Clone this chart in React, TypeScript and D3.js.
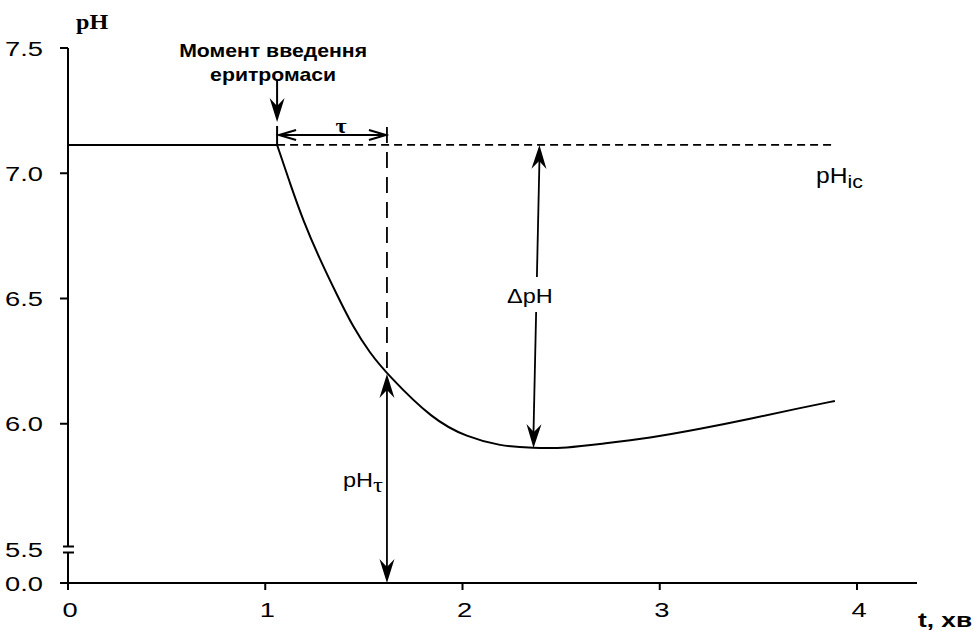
import React from "react";
import * as d3 from "d3";

// curve: time (min) and pH
const timeValues = [1.06, 1.125, 1.191, 1.278, 1.364, 1.445, 1.531, 1.617, 1.85, 2.023, 2.19, 2.357, 2.53, 2.697, 2.951, 3.204, 3.458, 3.711, 3.888];
const pHValues = [7.113, 6.961, 6.813, 6.654, 6.514, 6.386, 6.282, 6.199, 6.015, 5.947, 5.911, 5.903, 5.903, 5.919, 5.943, 5.979, 6.019, 6.063, 6.091];

const xTicks = [0, 1, 2, 3, 4];
const yTicks = [6.0, 6.5, 7.0, 7.5];
const yBreakTick = 5.5;
const yZeroTick = 0;

const pHInitial = 7.113;
const injectTime = 1.06;
const tauTime = 1.617;
const tauPH = 6.199;
const dashEndTime = 3.87;
const deltaTopTime = 2.39;
const deltaBottomTime = 2.36;
const minPH = 5.903;

const width = 974;
const height = 631;

const SANS = "'Liberation Sans', Arial, sans-serif";
const SERIF = "'Liberation Serif', 'Times New Roman', serif";

// filled, notched arrowhead pointing along angle, tip at (x, y)
const arrowHead = (x: number, y: number, angle: number, L = 24, W = 15, N = 16) => {
  const c = Math.cos(angle), s = Math.sin(angle);
  const p = (a: number, b: number) => `${x + a * c - b * s},${y + a * s + b * c}`;
  return `M${p(0, 0)}L${p(-L, -W / 2)}L${p(-N, 0)}L${p(-L, W / 2)}Z`;
};

const openHead = (x: number, y: number, angle: number, L = 17, W = 5) => {
  const c = Math.cos(angle), s = Math.sin(angle);
  const p = (a: number, b: number) => `${x + a * c - b * s},${y + a * s + b * c}`;
  return `M${p(-L, -W)}L${p(0, 0)}L${p(-L, W)}`;
};

const Stretch = ({ x, y, sx = 1.25, anchor = "start", size, weight = "normal", family = SANS, children }: any) => (
  <text
    transform={`translate(${x},${y}) scale(${sx},1)`}
    textAnchor={anchor}
    fontSize={size}
    fontWeight={weight}
    fontFamily={family}
    fill="#000"
  >
    {children}
  </text>
);

export default function App() {
  const x = d3.scaleLinear().domain([0, 4]).range([68, 857]);
  const y = d3.scaleLinear().domain([0, 5.5, 7.5]).range([583, 549, 48]);

  const points: [number, number][] = timeValues.map((t, i) => [t, pHValues[i]]);
  const line = d3
    .line<[number, number]>()
    .x((d) => x(d[0]))
    .y((d) => y(d[1]))
    .curve(d3.curveBasis);

  const x0 = x(0);
  const y0 = y(0);
  const yBase = y(pHInitial);
  const xInj = x(injectTime);
  const xTau = x(tauTime);
  const yTau = y(tauPH);
  const breakY = y(yBreakTick);

  const dTop = { x: x(deltaTopTime), y: yBase };
  const dBot = { x: x(deltaBottomTime), y: y(minPH) };
  const dAngle = Math.atan2(dBot.y - dTop.y, dBot.x - dTop.x);

  return (
    <svg width={width} height={height} style={{ position: "absolute", left: 0, top: 0, background: "#fff" }}>
      {/* axes */}
      <g stroke="#000" strokeWidth={2} fill="none">
        <line x1={x0 - 8} x2={917} y1={y0} y2={y0} />
        <line x1={x0} x2={x0} y1={y(7.5)} y2={breakY - 3} />
        <line x1={x0} x2={x0} y1={breakY + 4} y2={y0} />
        <line x1={x0 - 5} x2={x0 + 6} y1={breakY - 2.5} y2={breakY - 2.5} />
        <line x1={x0 - 5} x2={x0 + 6} y1={breakY + 3.5} y2={breakY + 3.5} />
        {yTicks.map((v) => (
          <line key={v} x1={x0 - 8} x2={x0} y1={y(v)} y2={y(v)} />
        ))}
        {xTicks.map((v) => (
          <line key={v} x1={x(v)} x2={x(v)} y1={y0} y2={y0 + 7} />
        ))}
      </g>
      {[...yTicks, yBreakTick, yZeroTick].map((v) => (
        <Stretch key={v} x={43} y={y(v) + 7.5} sx={1.3} anchor="end" size={21}>
          {v.toFixed(1)}
        </Stretch>
      ))}
      {xTicks.map((v) => (
        <Stretch key={v} x={x(v) + 2} y={617} sx={1.3} anchor="middle" size={21}>
          {String(v)}
        </Stretch>
      ))}
      <Stretch x={918} y={627} sx={1.25} size={21} weight="bold">
        t, хв
      </Stretch>
      <Stretch x={76} y={29} sx={1.15} size={21} weight="bold" family={SERIF}>
        pH
      </Stretch>

      {/* baseline and its dashed continuation */}
      <line x1={x0} x2={xInj} y1={yBase} y2={yBase} stroke="#000" strokeWidth={2} />
      <line x1={xInj} x2={x(dashEndTime)} y1={yBase} y2={yBase} stroke="#000" strokeWidth={1.8} strokeDasharray="8,5" />

      {/* response curve */}
      <path d={line(points) ?? ""} fill="none" stroke="#000" strokeWidth={2} />

      {/* moment of injection */}
      <Stretch x={xInj - 4} y={57} sx={1.18} anchor="middle" size={18} weight="bold">
        Момент введення
      </Stretch>
      <Stretch x={xInj - 4} y={81} sx={1.18} anchor="middle" size={18} weight="bold">
        еритромаси
      </Stretch>
      <line x1={xInj} x2={xInj} y1={80} y2={110} stroke="#000" strokeWidth={2} />
      <path d={arrowHead(xInj, 122, Math.PI / 2)} fill="#000" />
      <line x1={xInj} x2={xInj} y1={yBase - 19} y2={yBase} stroke="#000" strokeWidth={2} />

      {/* tau interval */}
      <line x1={xTau} x2={xTau} y1={yBase - 18} y2={yTau} stroke="#000" strokeWidth={1.8} strokeDasharray="16,9" />
      <line x1={xInj + 2} x2={xTau - 2} y1={yBase - 10} y2={yBase - 10} stroke="#000" strokeWidth={2} />
      <path d={openHead(xInj + 2, yBase - 10, Math.PI)} fill="none" stroke="#000" strokeWidth={2} />
      <path d={openHead(xTau - 1, yBase - 10, 0)} fill="none" stroke="#000" strokeWidth={2} />
      <rect x={(xInj + xTau) / 2 - 10} y={yBase - 26} width={20} height={15} fill="#fff" />
      <Stretch x={(xInj + xTau) / 2 + 9} y={yBase - 12} sx={1.15} anchor="middle" size={21} weight="bold" family={SERIF}>
        τ
      </Stretch>

      {/* pH_tau arrow */}
      <line x1={xTau} x2={xTau} y1={yTau + 16} y2={y0 - 16} stroke="#000" strokeWidth={1.8} />
      <path d={arrowHead(xTau, yTau, -Math.PI / 2)} fill="#000" />
      <path d={arrowHead(xTau, y0, Math.PI / 2)} fill="#000" />
      <rect x={xTau - 46} y={461} width={45} height={36} fill="#fff" />
      <text fontFamily={SANS} fill="#000" transform={`translate(${xTau - 44},487) scale(1.12,1)`}>
        <tspan fontSize={21}>pH</tspan>
        <tspan fontSize={22} dy={5} fontFamily={SERIF}>τ</tspan>
      </text>

      {/* delta pH arrow */}
      <line x1={dTop.x} x2={dBot.x} y1={dTop.y + 16} y2={dBot.y - 16} stroke="#000" strokeWidth={1.8} />
      <path d={arrowHead(dTop.x, dTop.y, dAngle + Math.PI)} fill="#000" />
      <path d={arrowHead(dBot.x, dBot.y, dAngle)} fill="#000" />
      <rect x={504} y={277} width={52} height={35} fill="#fff" />
      <Stretch x={507} y={303} sx={1.12} size={21}>
        ΔpH
      </Stretch>

      {/* pH_ic label */}
      <text fontFamily={SANS} fill="#000" transform={`translate(816,183) scale(1.12,1)`}>
        <tspan fontSize={22}>pH</tspan>
        <tspan fontSize={19} dy={5}>ic</tspan>
      </text>
    </svg>
  );
}
